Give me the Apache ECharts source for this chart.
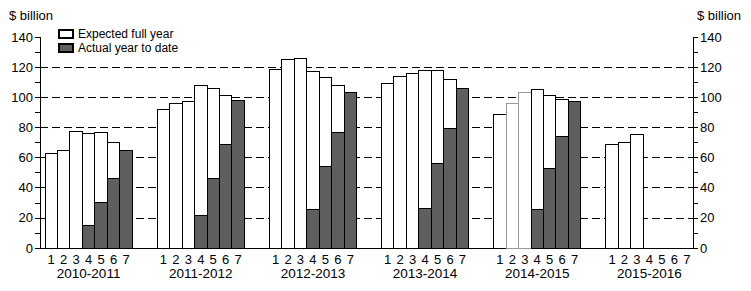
<!DOCTYPE html>
<html>
<head>
<meta charset="utf-8">
<script src="https://cdn.jsdelivr.net/npm/echarts@6/dist/echarts.min.js"></script>
<style>
html,body{margin:0;padding:0;background:#fff;}
#chart{width:751px;height:291px;}
#chart svg path{shape-rendering:crispEdges;}
</style>
</head>
<body>
<div id="chart"></div>
<script>
// ---- data ----
const years = ['2010-2011', '2011-2012', '2012-2013', '2013-2014', '2014-2015', '2015-2016'];
const months = ['1', '2', '3', '4', '5', '6', '7'];
const seriesNames = ['Expected full year', 'Actual year to date'];
const yTicks = [0, 20, 40, 60, 80, 100, 120, 140];

const expected_2010_11 = [64, 66, 78, 77, 77.5, 71, 66];
const expected_2011_12 = [93, 97, 98, 108.5, 107, 102, 99];
const expected_2012_13 = [119.5, 126, 127, 118, 114, 108.5, 104.5];
const expected_2013_14 = [110, 114.5, 117, 119, 119, 112.5, 107];
const expected_2014_15 = [89.5, 97, 104.5, 106, 102, 99.5, 98];
const expected_2015_16 = [69.5, 71, 76, null, null, null, null];

const actual_2010_11 = [null, null, null, 15.7, 31.5, 47, 66];
const actual_2011_12 = [null, null, null, 22.5, 47, 70, 99];
const actual_2012_13 = [null, null, null, 26.5, 55, 77.5, 104.5];
const actual_2013_14 = [null, null, null, 27.5, 57, 80, 107];
const actual_2014_15 = [null, null, null, 26.5, 53.5, 75, 98];
const actual_2015_16 = [null, null, null, null, null, null, null];

const expectedAll = [expected_2010_11, expected_2011_12, expected_2012_13, expected_2013_14, expected_2014_15, expected_2015_16];
const actualAll = [actual_2010_11, actual_2011_12, actual_2012_13, actual_2013_14, actual_2014_15, actual_2015_16];

// ---- build slots (7 bars per year, 2 empty slots between years) ----
const monthLabels = [];
const yearLabels = [];
const expData = [];
const actData = [];
years.forEach((yr, g) => {
  months.forEach((m, k) => {
    monthLabels.push(m);
    yearLabels.push(k === 3 ? yr : '');
    const ev = expectedAll[g][k];
    if (ev == null) expData.push('-');
    else if (g === 4 && (k === 1 || k === 2)) expData.push({ value: ev, itemStyle: { borderColor: '#999' } });
    else expData.push(ev);
    const av = actualAll[g][k];
    actData.push(av == null ? '-' : av);
  });
  if (g < years.length - 1) {
    for (let i = 0; i < 2; i++) { monthLabels.push(''); yearLabels.push(''); expData.push('-'); actData.push('-'); }
  }
});

const W = 751, gridLeftBars = 45, gridRight = 58;
const slotW = (W - gridLeftBars - gridRight) / monthLabels.length;
const barW = slotW + 1; // neighbouring borders coincide

const font = 'Liberation Sans, Arial, Helvetica, sans-serif';
const commonY = {
  type: 'value', min: yTicks[0], max: yTicks[yTicks.length - 1], interval: 20,
  axisLine: { show: true, lineStyle: { color: '#000', width: 1 } },
  axisTick: { show: true, length: 5, lineStyle: { color: '#000' } },
  minorTick: { show: true, splitNumber: 2, length: 5, lineStyle: { color: '#000' } },
  axisLabel: { fontSize: 13, color: '#000', margin: 7, fontFamily: font }
};
const hiddenCat = {
  gridIndex: 1, type: 'category', boundaryGap: true, position: 'bottom', offset: 0,
  axisLine: { show: false }, axisTick: { show: false }, splitLine: { show: false }
};

const chart = echarts.init(document.getElementById('chart'), null, { renderer: 'svg' });
chart.setOption({
  animation: false,
  backgroundColor: '#fff',
  textStyle: { fontFamily: font },
  title: [
    { text: '$ billion', left: 9, top: 9, padding: 0, textStyle: { fontSize: 13, fontWeight: 'normal', color: '#000', fontFamily: font } },
    { text: '$ billion', right: 10, top: 9, padding: 0, textStyle: { fontSize: 13, fontWeight: 'normal', color: '#000', fontFamily: font } }
  ],
  legend: {
    data: seriesNames, orient: 'vertical', left: 58, top: 28, padding: 0,
    itemWidth: 14, itemHeight: 8, itemGap: 2, icon: 'rect',
    textStyle: { fontSize: 12, color: '#000', lineHeight: 12, fontFamily: font }
  },
  grid: [
    { left: 40, right: gridRight, top: 37, bottom: 43 },
    { left: gridLeftBars, right: gridRight, top: 38, bottom: 42 }
  ],
  xAxis: [
    { gridIndex: 0, type: 'value', min: 0, max: 1, axisLine: { show: true, lineStyle: { color: '#000' } },
      axisTick: { show: false }, axisLabel: { show: false }, splitLine: { show: false } },
    Object.assign({}, hiddenCat, { data: monthLabels,
      axisLabel: { interval: 0, margin: 4, fontSize: 13, lineHeight: 13, color: '#000', fontFamily: font } }),
    Object.assign({}, hiddenCat, { data: yearLabels,
      axisLabel: { interval: 0, margin: 18, fontSize: 13.5, lineHeight: 13, color: '#000', fontFamily: font } })
  ],
  yAxis: [
    Object.assign({}, commonY, { gridIndex: 0, position: 'left',
      splitLine: { show: true, showMinLine: false, showMaxLine: false, lineStyle: { color: '#000', type: [8, 4], width: 1 } } }),
    Object.assign({}, commonY, { gridIndex: 0, position: 'right', splitLine: { show: false } }),
    { gridIndex: 1, type: 'value', min: 0, max: 140, show: false, splitLine: { show: false } }
  ],
  series: [
    { name: seriesNames[0], type: 'bar', xAxisIndex: 1, yAxisIndex: 2, data: expData,
      barGap: '-100%', barWidth: barW,
      itemStyle: { color: '#fff', borderColor: '#000', borderWidth: 1 } },
    { name: seriesNames[1], type: 'bar', xAxisIndex: 1, yAxisIndex: 2, data: actData,
      barGap: '-100%', barWidth: barW,
      itemStyle: { color: '#5f5f5f', borderColor: '#000', borderWidth: 1 } }
  ]
});
</script>
</body>
</html>
